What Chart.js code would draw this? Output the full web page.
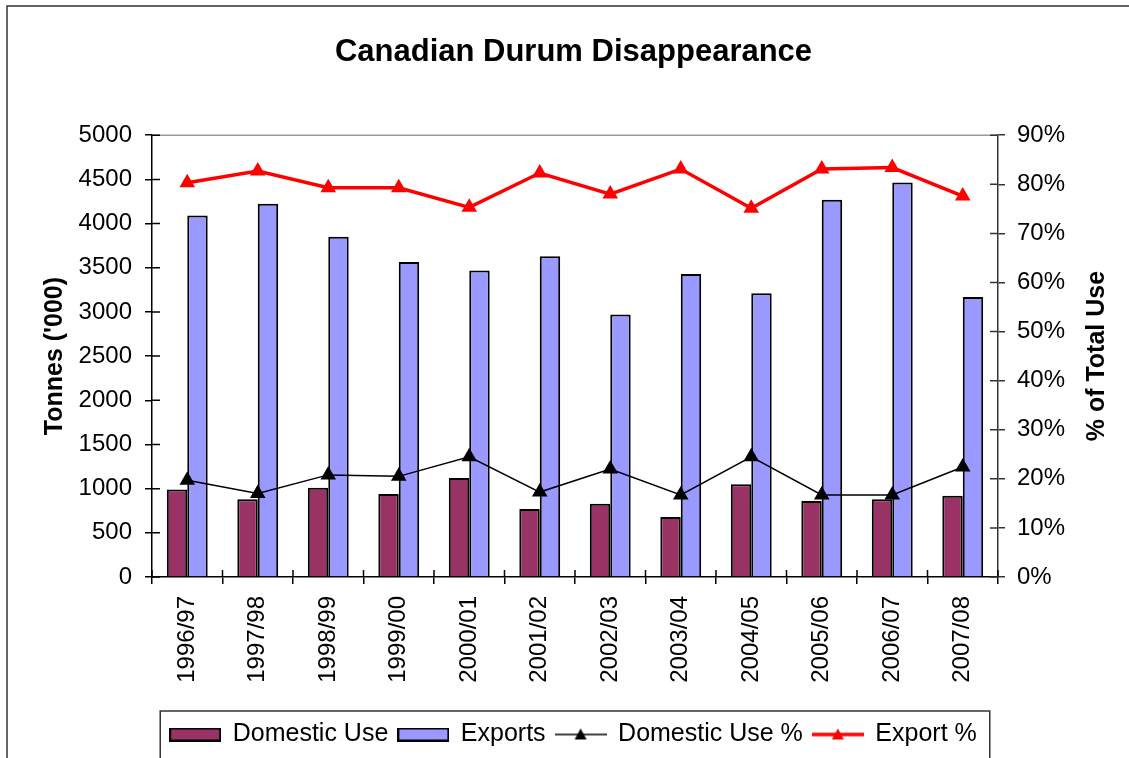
<!DOCTYPE html>
<html>
<head>
<meta charset="utf-8">
<script src="https://cdn.jsdelivr.net/npm/chart.js@4.4.1/dist/chart.umd.min.js"></script>
<style>
  body { margin: 0; background: #fff; }
  #wrap { width: 1129px; height: 758px; }
</style>
</head>
<body>
<div id="wrap"><canvas id="durumChart" width="1129" height="758"></canvas></div>
<script>
const categories = ["1996/97", "1997/98", "1998/99", "1999/00", "2000/01", "2001/02",
  "2002/03", "2003/04", "2004/05", "2005/06", "2006/07", "2007/08"];
const domesticUse = [990, 880, 1010, 940, 1120, 770, 830, 680, 1050, 860, 880, 920];
const exports = [4090, 4225, 3850, 3565, 3470, 3630, 2970, 3430, 3210, 4270, 4465, 3170];
const domesticPct = [19.7, 17.0, 20.8, 20.5, 24.5, 17.3, 22.0, 16.7, 24.5, 16.7, 16.7, 22.4];
const exportPct = [80.3, 82.7, 79.3, 79.3, 75.3, 82.3, 78.0, 83.1, 75.1, 83.1, 83.4, 77.6];

const tonnesMax = 5000, tonnesStep = 500;
const pctMax = 90, pctStep = 10;

const FONT = "'Liberation Sans', Arial, sans-serif";

// --- legend markers ---
function swatch(fill) {
  const c = document.createElement("canvas");
  c.width = 52; c.height = 14;
  const g = c.getContext("2d");
  g.fillStyle = fill;
  g.fillRect(0, 0, 52, 14);
  g.strokeStyle = "#000";
  g.lineWidth = 2;
  g.strokeRect(1, 1, 50, 12);
  return c;
}
function lineMark(color, width) {
  const c = document.createElement("canvas");
  c.width = 52; c.height = 16;
  const g = c.getContext("2d");
  g.strokeStyle = color;
  g.lineWidth = width;
  g.beginPath(); g.moveTo(0, 8); g.lineTo(52, 8); g.stroke();
  g.fillStyle = color;
  g.beginPath(); g.moveTo(26, 2); g.lineTo(32, 13); g.lineTo(20, 13); g.closePath(); g.fill();
  return c;
}
const legendMarks = [swatch("#993366"), swatch("#9999ff"), lineMark("#000", 1.5), lineMark("#ff0000", 3.5)];

// --- extra drawing: frame, cross ticks, legend box, right title ---
const decor = {
  id: "decor",
  beforeDraw(chart) {
    const ctx = chart.ctx;
    ctx.save();
    ctx.fillStyle = "#fff";
    ctx.fillRect(0, 0, chart.width, chart.height);
    ctx.strokeStyle = "#333";
    ctx.lineWidth = 1.5;
    ctx.beginPath();
    ctx.moveTo(7, chart.height + 2);
    ctx.lineTo(7, 6);
    ctx.lineTo(chart.width + 2, 6);
    ctx.stroke();
    ctx.restore();
  },
  beforeDatasetsDraw(chart) {
    const { ctx, chartArea: a } = chart;
    ctx.save();
    ctx.strokeStyle = "#999";
    ctx.lineWidth = 1.5;
    ctx.beginPath();
    ctx.moveTo(a.left, a.top);
    ctx.lineTo(a.right, a.top);
    ctx.stroke();
    ctx.restore();
  },
  afterDraw(chart) {
    const { ctx, chartArea: a, scales } = chart;
    ctx.save();
    ctx.lineWidth = 1.5;
    // inner halves of ticks
    ctx.strokeStyle = "#000";
    ctx.beginPath();
    scales.y.ticks.forEach((t, i) => {
      const py = scales.y.getPixelForTick(i);
      ctx.moveTo(a.left, py); ctx.lineTo(a.left + 8, py);
    });
    for (let i = 0; i <= categories.length; i++) {
      const px = scales.x.getPixelForValue(i - 0.5);
      ctx.moveTo(px, a.bottom); ctx.lineTo(px, a.bottom - 7);
    }
    ctx.stroke();
    ctx.strokeStyle = "#333";
    ctx.beginPath();
    scales.y1.ticks.forEach((t, i) => {
      const py = scales.y1.getPixelForTick(i);
      ctx.moveTo(a.right, py); ctx.lineTo(a.right - 8, py);
    });
    ctx.stroke();

    // legend box
    const boxes = chart.legend.legendHitBoxes;
    if (boxes && boxes.length) {
      const first = boxes[0], last = boxes[boxes.length - 1];
      ctx.strokeStyle = "#333";
      ctx.lineWidth = 1.5;
      ctx.strokeRect(first.left - 10, chart.legend.top - 1,
        last.left + last.width + 13 - (first.left - 10), 60);
    }

    // right axis title (reads bottom to top)
    ctx.fillStyle = "#000";
    ctx.font = "bold 25px " + FONT;
    ctx.textAlign = "center";
    ctx.textBaseline = "middle";
    ctx.translate(1097, (a.top + a.bottom) / 2);
    ctx.rotate(-Math.PI / 2);
    ctx.fillText("% of Total Use", 0, 0);
    ctx.restore();
  }
};

new Chart(document.getElementById("durumChart"), {
  type: "bar",
  data: {
    labels: categories,
    datasets: [
      {
        label: "Domestic Use",
        data: domesticUse,
        backgroundColor: "#993366",
        borderColor: "#000",
        borderWidth: 2,
        categoryPercentage: 0.58,
        barPercentage: 1.0,
        yAxisID: "y",
        order: 1,
      },
      {
        label: "Exports",
        data: exports,
        backgroundColor: "#9999ff",
        borderColor: "#000",
        borderWidth: 2,
        categoryPercentage: 0.58,
        barPercentage: 1.0,
        yAxisID: "y",
        order: 1,
      },
      {
        type: "line",
        label: "Domestic Use %",
        data: domesticPct,
        borderColor: "#000",
        backgroundColor: "#000",
        borderWidth: 1.5,
        pointStyle: "triangle",
        pointRadius: 9,
        pointBorderWidth: 0,
        tension: 0,
        fill: false,
        yAxisID: "y1",
        order: 0,
      },
      {
        type: "line",
        label: "Export %",
        data: exportPct,
        borderColor: "#ff0000",
        backgroundColor: "#ff0000",
        borderWidth: 3.5,
        pointStyle: "triangle",
        pointRadius: 9,
        pointBorderWidth: 0,
        tension: 0,
        fill: false,
        yAxisID: "y1",
        order: 0,
      },
    ],
  },
  options: {
    responsive: false,
    animation: false,
    layout: { padding: { left: 18, right: 0, top: 0, bottom: 1 } },
    plugins: {
      tooltip: { enabled: false },
      title: {
        display: true,
        text: "Canadian Durum Disappearance",
        color: "#000",
        font: { family: FONT, size: 31, weight: "bold" },
        padding: { top: 34, bottom: 64 },
      },
      legend: {
        position: "bottom",
        labels: {
          color: "#000",
          font: { family: FONT, size: 25 },
          usePointStyle: true,
          pointStyleWidth: 50,
          padding: 10,
          generateLabels: (chart) =>
            chart.data.datasets.map((ds, i) => ({
              text: ds.label,
              pointStyle: legendMarks[i],
              datasetIndex: i,
              hidden: false,
              lineWidth: 0,
              fillStyle: "transparent",
              strokeStyle: "transparent",
              fontColor: "#000",
            })),
        },
      },
    },
    scales: {
      x: {
        grid: { drawOnChartArea: false, tickLength: 7, color: "#000", lineWidth: 1.5, offset: true },
        border: { color: "#000", width: 1.5 },
        ticks: {
          color: "#000",
          font: { family: FONT, size: 24 },
          minRotation: 90,
          maxRotation: 90,
          autoSkip: false,
          padding: 12,
        },
        afterFit: (s) => { s.height = 135; },
      },
      y: {
        position: "left",
        min: 0,
        max: tonnesMax,
        grid: { drawOnChartArea: false, tickLength: 7, color: "#000", lineWidth: 1.5 },
        border: { color: "#000", width: 1.5 },
        ticks: {
          stepSize: tonnesStep,
          color: "#000",
          font: { family: FONT, size: 24 },
          padding: 13,
          callback: (v) => String(v),
        },
        title: {
          display: true,
          text: "Tonnes ('000)",
          color: "#000",
          font: { family: FONT, size: 25, weight: "bold" },
          padding: { top: 22 },
        },
        afterFit: (s) => { s.width = 134; },
      },
      y1: {
        position: "right",
        min: 0,
        max: pctMax,
        grid: { drawOnChartArea: false, tickLength: 7, color: "#333", lineWidth: 1.5 },
        border: { color: "#333", width: 1.5 },
        ticks: {
          stepSize: pctStep,
          color: "#000",
          font: { family: FONT, size: 24 },
          padding: 12,
          callback: (v) => v + "%",
        },
        afterFit: (s) => { s.width = 131; },
      },
    },
  },
  plugins: [decor],
});
</script>
</body>
</html>
